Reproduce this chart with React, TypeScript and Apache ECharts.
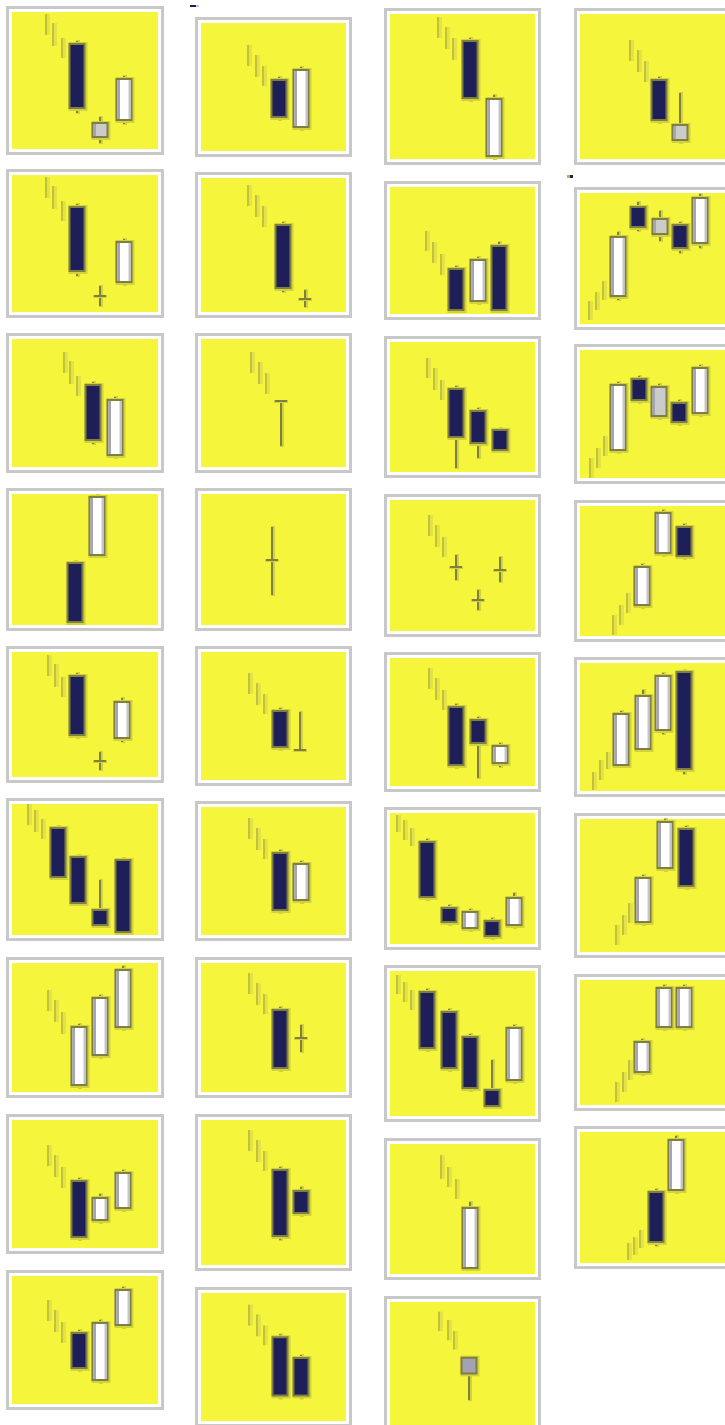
import React, { useEffect, useRef } from "react";
import * as echarts from "echarts";

// Candle rows: [x, open, close, low, high, kind]  kind: 0 = normal, 1 = light grey body, 2 = blue-grey body
// Trend rows:  [x, high, low]  (the short sticks that show the prior trend)

// Column 1
const A1_TREND = [[40, 141, 120], [47, 132, 109], [56, 117, 97]];
const A1_CANDLES = [[70.5, 111, 47, 42, 114, 0], [94, 18, 32, 12, 38, 1], [117.5, 35, 76, 31, 79, 0]];
const A2_TREND = [[40, 141, 120], [47, 132, 109], [56, 117, 97]];
const A2_CANDLES = [[70.5, 111, 47, 42, 114, 0], [94, 22, 22, 12, 32, 0], [117.5, 36, 76, 33, 79, 0]];
const A3_TREND = [[58, 121, 100], [64, 112, 89], [71, 97, 77]];
const A3_CANDLES = [[87, 88, 33, 29, 91, 0], [108.5, 18, 73, 15, 76, 0]];
const A4_TREND: number[][] = [];
const A4_CANDLES = [[69, 68, 9, 7, 70, 0], [90.5, 76, 134, 74, 136, 0]];
const A5_TREND = [[42, 128, 107], [49, 119, 96], [56, 106, 86]];
const A5_CANDLES = [[71, 107, 48, 45, 110, 0], [94, 22, 22, 13, 31, 0], [115.5, 45, 81, 41, 85, 0]];
const A6_TREND = [[22, 137, 116], [28.5, 131, 109], [36, 122, 102]];
const A6_CANDLES = [[51.5, 113, 64, 62, 115, 0], [72, 84, 38, 36, 86, 0], [94, 31, 16, 14, 61, 0], [116.5, 81, 9, 7, 83, 0]];
const A7_TREND = [[42, 108, 87], [49, 98, 76], [56, 86, 64]];
const A7_CANDLES = [[73, 13, 71, 10, 74, 0], [94, 43, 100, 40, 103, 0], [117, 71, 128, 68, 132, 0]];
const A8_TREND = [[42, 109, 88], [49, 99, 77], [56, 87, 66]];
const A8_CANDLES = [[72.5, 73, 17, 14, 76, 0], [94, 34, 56, 31, 60, 0], [117, 46, 81, 43, 84, 0]];
const A9_TREND = [[42, 110, 89], [49, 100, 78], [56, 88, 67]];
const A9_CANDLES = [[72.5, 77, 42, 39, 80, 0], [94, 30, 87, 27, 90, 0], [117, 85, 120, 82, 123, 0]];

// Column 2
const B1_TREND = [[53, 112, 91], [61, 102, 80], [68, 91, 71]];
const B1_CANDLES = [[84, 77, 40, 37, 80, 0], [105.5, 30, 87, 27, 90, 0]];
const B2_TREND = [[53, 133, 112], [61, 123, 101], [68, 112, 91]];
const B2_CANDLES = [[87.5, 93, 30, 26, 96, 0], [110, 19, 19, 11, 28, 0]];
const B3_TREND = [[56, 121, 100], [64, 111, 89], [71, 100, 79]];
const B3_CANDLES = [[86, 72, 72, 27, 72, 0]];
const B4_TREND: number[][] = [];
const B4_CANDLES = [[77, 71, 71, 36, 104, 0]];
const B5_TREND = [[54, 113, 92], [62, 103, 81], [69, 92, 72]];
const B5_CANDLES = [[84.5, 75, 39, 36, 78, 0], [105, 36, 36, 36, 74, 0]];
const B6_TREND = [[54, 123, 102], [62, 113, 91], [69, 102, 82]];
const B6_CANDLES = [[85, 88, 31, 28, 91, 0], [105.5, 41, 77, 38, 80, 0]];
const B7_TREND = [[54, 125, 104], [62, 115, 93], [69, 104, 84]];
const B7_CANDLES = [[85, 88, 30, 27, 91, 0], [106, 60, 60, 46, 73, 0]];
const B8_TREND = [[54, 141, 120], [62, 131, 109], [69, 120, 100]];
const B8_CANDLES = [[85, 101, 35, 31, 104, 0], [106, 80, 58, 55, 84, 0]];
const B9_TREND = [[54, 122, 101], [62, 112, 90], [69, 101, 81]];
const B9_CANDLES = [[85, 89, 30, 27, 92, 0], [106, 68, 30, 27, 71, 0]];

// Column 3
const C1_TREND = [[54, 148, 127], [62, 138, 116], [69, 127, 105]];
const C1_CANDLES = [[86, 124, 67, 64, 127, 0], [110, 9, 66, 6, 70, 0]];
const C2_TREND = [[42, 89, 69], [49, 78, 57], [56.5, 66, 45]];
const C2_CANDLES = [[71.5, 51, 10, 8, 54, 0], [93.5, 19, 60, 16, 63, 0], [114.5, 74, 10, 8, 78, 0]];
const C3_TREND = [[43, 120, 100], [50, 110, 88], [57, 98, 78]];
const C3_CANDLES = [[71.5, 89, 41, 10, 92, 0], [93.5, 67, 35, 20, 70, 0], [115.5, 48, 28, 26, 50, 0]];
const C4_TREND = [[45, 122, 101], [52, 112, 90], [59, 100, 80]];
const C4_CANDLES = [[72, 70, 70, 57, 82, 0], [94, 37, 37, 27, 47, 0], [116, 67, 67, 55, 80, 0]];
const C5_TREND = [[45, 124, 103], [52, 114, 92], [59, 102, 82]];
const C5_CANDLES = [[71.5, 85, 27, 24, 88, 0], [93.5, 72, 49, 14, 75, 0], [116, 29, 46, 25, 49, 0]];
const C6_TREND = [[13, 135, 118], [20, 130, 110], [27, 122, 104]];
const C6_CANDLES = [[42.5, 108, 53, 50, 111, 0], [64.5, 42, 28, 25, 45, 0], [85.5, 22, 38, 19, 41, 0], [107.5, 29, 14, 11, 32, 0], [130, 25, 52, 22, 57, 0]];
const C7_TREND = [[13, 147, 128], [20, 140, 120], [27, 132, 112]];
const C7_CANDLES = [[42.5, 130, 74, 71, 133, 0], [64.5, 110, 54, 51, 113, 0], [85.5, 85, 34, 31, 88, 0], [107.5, 32, 16, 14, 62, 0], [130, 42, 94, 39, 97, 0]];
const C8_TREND = [[56.5, 125, 101], [64, 113, 93], [71.5, 101, 81]];
const C8_CANDLES = [[86, 12, 72, 12, 78, 0]];
const C9_TREND = [[55, 123, 102], [64, 114, 92], [70, 102, 82]];
const C9_CANDLES = [[84.5, 73, 56, 27, 73, 2]];

// Column 4
const D1_TREND = [[59, 125, 104], [67, 115, 93], [74, 104, 83]];
const D1_CANDLES = [[88.5, 85, 45, 42, 88, 0], [111, 25, 40, 22, 72, 1]];
const D2_TREND = [[16, 29, 10], [23, 38, 20], [30.5, 49, 30]];
const D2_CANDLES = [[46.5, 34, 93, 30, 98, 0], [67, 123, 103, 99, 128, 0], [89.5, 96, 111, 89, 119, 1], [111, 105, 82, 77, 108, 0], [131.5, 87, 132, 82, 136, 0]];
const D3_TREND = [[17, 26, 6], [24, 36, 16], [31, 48, 28]];
const D3_CANDLES = [[46, 34, 99, 31, 102, 0], [68, 105, 84, 81, 108, 0], [89, 68, 97, 65, 100, 1], [110, 81, 62, 59, 84, 0], [132, 71, 116, 68, 119, 0]];
const D4_TREND = [[41, 27, 7], [48, 37, 17], [55, 49, 29]];
const D4_CANDLES = [[71, 37, 75, 34, 78, 0], [93, 89, 129, 86, 132, 0], [115, 115, 86, 83, 118, 0]];
const D5_TREND = [[20, 25, 7], [27.5, 37, 17], [35, 45, 28]];
const D5_CANDLES = [[49.5, 32, 83, 31, 86, 0], [72.5, 48, 101, 46, 107, 0], [93.5, 67, 121, 63, 124, 0], [115.5, 125, 28, 23, 127, 0]];
const D6_TREND = [[44, 33, 13], [51, 43, 23], [58, 55, 35]];
const D6_CANDLES = [[72, 36, 80, 33, 83, 0], [95, 90, 136, 87, 139, 0], [117, 129, 72, 69, 132, 0]];
const D7_TREND = [[44, 29, 9], [51, 39, 19], [58, 51, 31]];
const D7_CANDLES = [[71, 39, 69, 36, 72, 0], [94, 84, 123, 81, 126, 0], [115, 84, 123, 81, 126, 0]];
const D8_TREND = [[57, 26, 9], [63, 32, 14], [69, 39, 21]];
const D8_CANDLES = [[86, 77, 27, 23, 80, 0], [107, 79, 129, 76, 133, 0]];

const PANEL_DATA = [
  [[A1_TREND, A1_CANDLES], [A2_TREND, A2_CANDLES], [A3_TREND, A3_CANDLES], [A4_TREND, A4_CANDLES], [A5_TREND, A5_CANDLES], [A6_TREND, A6_CANDLES], [A7_TREND, A7_CANDLES], [A8_TREND, A8_CANDLES], [A9_TREND, A9_CANDLES]],
  [[B1_TREND, B1_CANDLES], [B2_TREND, B2_CANDLES], [B3_TREND, B3_CANDLES], [B4_TREND, B4_CANDLES], [B5_TREND, B5_CANDLES], [B6_TREND, B6_CANDLES], [B7_TREND, B7_CANDLES], [B8_TREND, B8_CANDLES], [B9_TREND, B9_CANDLES]],
  [[C1_TREND, C1_CANDLES], [C2_TREND, C2_CANDLES], [C3_TREND, C3_CANDLES], [C4_TREND, C4_CANDLES], [C5_TREND, C5_CANDLES], [C6_TREND, C6_CANDLES], [C7_TREND, C7_CANDLES], [C8_TREND, C8_CANDLES], [C9_TREND, C9_CANDLES]],
  [[D1_TREND, D1_CANDLES], [D2_TREND, D2_CANDLES], [D3_TREND, D3_CANDLES], [D4_TREND, D4_CANDLES], [D5_TREND, D5_CANDLES], [D6_TREND, D6_CANDLES], [D7_TREND, D7_CANDLES], [D8_TREND, D8_CANDLES]],
];

// Layout (page pixels): column x-extents and per-column panel y-extents
const COLS = [[6, 164], [195, 352], [384, 541], [574, 732]];
const ROWS = [
  [[6, 155], [169, 318], [333, 473], [488, 631], [646, 783], [798, 941], [957, 1098], [1114, 1254], [1270, 1410]],
  [[17, 157], [172, 318], [333, 473], [488, 631], [646, 786], [801, 941], [957, 1098], [1114, 1271], [1287, 1427]],
  [[8, 165], [181, 320], [336, 478], [494, 637], [652, 792], [807, 950], [965, 1122], [1138, 1280], [1296, 1436]],
  [[8, 165], [187, 330], [344, 484], [500, 642], [657, 797], [813, 958], [974, 1111], [1126, 1269]],
];

const YELLOW = "#f5f53c";
const FRAME = "#c8c8c8";
const NAVY = "#1e1e58";
const OLIVE = "#7f7f3f";
const HALO = "#d2d23e";
const STICK_DARK = "#c2c23a";
const STICK_LIGHT = "#e3e348";

function renderTrend(params: any, api: any) {
  const x = api.value(0);
  const pH = api.coord([x, api.value(1)]);
  const pL = api.coord([x, api.value(2)]);
  const cx = Math.round(pH[0]);
  const h = pL[1] - pH[1];
  return {
    type: "group",
    children: [
      { type: "rect", shape: { x: cx - 1, y: pH[1], width: 5, height: h }, style: { fill: STICK_LIGHT } },
      { type: "rect", shape: { x: cx - 1, y: pH[1], width: 2, height: h }, style: { fill: STICK_DARK } },
    ],
  };
}

function renderCandle(params: any, api: any) {
  const x = api.value(0);
  const o = api.value(1);
  const c = api.value(2);
  const kind = api.value(5);
  const pO = api.coord([x, o]);
  const pC = api.coord([x, c]);
  const pL = api.coord([x, api.value(3)]);
  const pH = api.coord([x, api.value(4)]);
  const cx = Math.round(pO[0]);
  const top = Math.min(pO[1], pC[1]);
  const bot = Math.max(pO[1], pC[1]);
  const half = 7.5;
  const children: any[] = [];
  const wickLen = pL[1] - pH[1];
  if (wickLen > 0) {
    children.push({ type: "rect", shape: { x: cx - 1, y: pH[1] - 1, width: 4, height: wickLen + 2 }, style: { fill: HALO } });
    children.push({ type: "rect", shape: { x: cx - 1, y: pH[1], width: 2, height: wickLen }, style: { fill: OLIVE } });
  }
  if (bot - top < 1) {
    children.push({ type: "rect", shape: { x: cx - 7, y: top - 1, width: 14, height: 3 }, style: { fill: HALO } });
    children.push({ type: "rect", shape: { x: cx - 6, y: top - 1, width: 12, height: 2 }, style: { fill: OLIVE } });
  } else {
    children.push({ type: "rect", shape: { x: cx - half - 1, y: top - 2, width: 2 * half + 4, height: bot - top + 5 }, style: { fill: HALO } });
    let fill = c < o ? NAVY : "#ffffff";
    if (kind === 1) fill = "#cbcbcb";
    if (kind === 2) fill = "#a2a2b2";
    children.push({ type: "rect", shape: { x: cx - half, y: top, width: 2 * half, height: bot - top }, style: { fill, stroke: OLIVE, lineWidth: 2 } });
    if (fill === "#ffffff" && bot - top > 6) {
      children.push({ type: "rect", shape: { x: cx - half + 1, y: top + 1, width: 2.5, height: bot - top - 2 }, style: { fill: "#a4a4b6" } });
      children.push({ type: "rect", shape: { x: cx + half - 3, y: top + 1, width: 2, height: bot - top - 2 }, style: { fill: "#c4c4d0" } });
    }
    if (kind === 1) {
      children.push({ type: "rect", shape: { x: cx - half + 1, y: top + 1, width: 2.5, height: bot - top - 2 }, style: { fill: "#a4a4b6" } });
    }
  }
  return { type: "group", children };
}

function buildOption() {
  const grid: any[] = [];
  const xAxis: any[] = [];
  const yAxis: any[] = [];
  const series: any[] = [];
  const graphic: any[] = [];
  let gi = 0;
  COLS.forEach(([x0, x1], ci) => {
    ROWS[ci].forEach(([y0, y1], ri) => {
      const w = x1 - x0;
      const h = y1 - y0;
      graphic.push({ type: "rect", silent: true, shape: { x: x0, y: y0, width: w, height: h }, style: { fill: FRAME } });
      graphic.push({ type: "rect", silent: true, shape: { x: x0 + 3, y: y0 + 3, width: w - 6, height: h - 6 }, style: { fill: "#ffffff" } });
      graphic.push({ type: "rect", silent: true, shape: { x: x0 + 6, y: y0 + 6, width: w - 12, height: h - 12 }, style: { fill: YELLOW } });
      const [trend, candles] = PANEL_DATA[ci][ri];
      grid.push({ left: x0, top: y0, width: w, height: h, show: false });
      xAxis.push({ type: "value", gridIndex: gi, min: 0, max: w, show: false });
      yAxis.push({ type: "value", gridIndex: gi, min: 0, max: h, show: false });
      series.push({
        type: "custom",
        xAxisIndex: gi,
        yAxisIndex: gi,
        data: trend,
        encode: { x: 0, y: [1, 2] },
        renderItem: renderTrend,
        silent: true,
      });
      series.push({
        type: "custom",
        xAxisIndex: gi,
        yAxisIndex: gi,
        data: candles,
        encode: { x: 0, y: [1, 2, 3, 4] },
        renderItem: renderCandle,
        silent: true,
      });
      gi++;
    });
  });
  // small stray marks at the top of the picture
  graphic.push({ type: "rect", silent: true, shape: { x: 190, y: 5, width: 6, height: 2 }, style: { fill: NAVY } });
  graphic.push({ type: "rect", silent: true, shape: { x: 196, y: 5, width: 3, height: 2 }, style: { fill: "#c8c8d0" } });
  graphic.push({ type: "rect", silent: true, shape: { x: 567, y: 175, width: 3, height: 3 }, style: { fill: "#b8b83a" } });
  graphic.push({ type: "rect", silent: true, shape: { x: 570, y: 175, width: 3, height: 3 }, style: { fill: NAVY } });
  return {
    animation: false,
    backgroundColor: "#ffffff",
    grid,
    xAxis,
    yAxis,
    series,
    graphic,
  };
}

export default function App() {
  const ref = useRef<HTMLDivElement>(null);
  useEffect(() => {
    if (!ref.current) return;
    const chart = echarts.init(ref.current, null, { renderer: "svg" });
    chart.setOption(buildOption() as any);
    return () => chart.dispose();
  }, []);
  return (
    <div
      ref={ref}
      style={{ position: "absolute", left: 0, top: 0, width: 725, height: 1425 }}
    />
  );
}
